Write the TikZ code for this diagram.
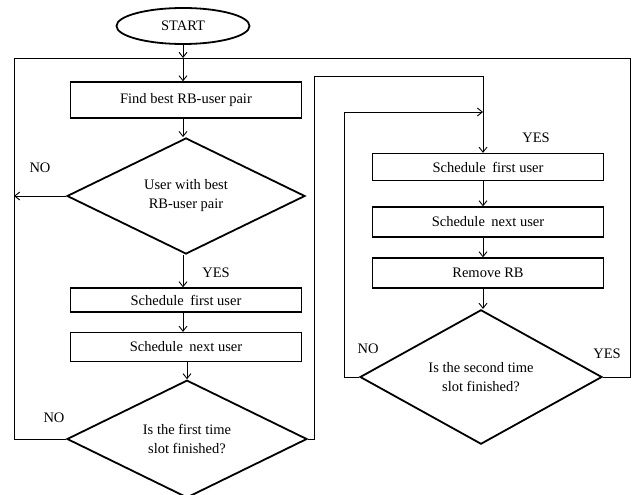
\documentclass[tikz,border=0pt]{standalone}
\usepackage{fontspec}
\setmainfont{Liberation Serif}
\usetikzlibrary{shapes.geometric,arrows.meta}
\begin{document}
\begin{tikzpicture}[x=1pt,y=-1pt,
  every node/.style={font=\fontsize{14.5}{19}\selectfont},
  boxstyle/.style={draw,line width=1.3pt,minimum width=231pt,inner sep=0pt,anchor=center},
  decstyle/.style={draw,diamond,line width=1.8pt,inner sep=0pt,align=center},
  conn/.style={line width=0.9pt},
  arr/.style={conn,-{Straight Barb[length=5pt,width=8pt]}},
  lbl/.style={inner sep=0pt}
]
\useasboundingbox (0,0) rectangle (637,495);
\node[draw,ellipse,line width=1.8pt,minimum width=133pt,minimum height=36pt,inner sep=0pt] (start) at (183,26) {START};
\coordinate (j) at (183,58);
\node[boxstyle,minimum height=36pt] (b1) at (186,100) {Find best RB-user pair};
\node[decstyle,minimum width=238pt,minimum height=116pt] (d1) at (186,196) {User with best\\RB-user pair};
\node[boxstyle,minimum height=24pt] (b2) at (186,300) {Schedule\hspace{0.2em} first user};
\node[boxstyle,minimum height=29pt] (b3) at (186,347) {Schedule\hspace{0.2em} next user};
\node[decstyle,minimum width=240pt,minimum height=112pt] (d2) at (187,439) {Is the first time\\slot finished?};
\node[boxstyle,minimum height=27pt] (b4) at (488,167) {Schedule\hspace{0.2em} first user};
\node[boxstyle,minimum height=30pt] (b5) at (488,222) {Schedule\hspace{0.2em} next user};
\node[boxstyle,minimum height=30pt] (b6) at (488,273) {Remove RB};
\node[decstyle,minimum width=242pt,minimum height=130pt] (d3) at (481,377) {Is the second time\\slot finished?};

\coordinate (tl) at (14,58);
\coordinate (tr) at (630,58);
\coordinate (l1) at (14,196);
\coordinate (r1) at (314,76);
\coordinate (m1) at (344,112);
\coordinate (m2) at (483,112);

\draw[arr] (start.south) -- (j);
\draw[arr] (j) -- (b1.north -| j);
\draw[arr] (b1.south -| j) -- (d1.north -| j);
\draw[arr] (d1.west) -- (l1);
\draw[arr] (d1.south -| j) -- (b2.north -| j);
\draw[arr] (b2.south -| j) -- (b3.north -| j);
\draw[arr] (b3.south -| d2) -- (d2.north);
\draw[conn] (d2.west) -| (tl) -- (tr) |- (d3.east);
\draw[arr] (d2.east) -| (r1) -| (b4.north -| m2);
\draw[arr] (d3.west) -| (m1) -- (m2);
\draw[arr] (b4.south -| m2) -- (b5.north -| m2);
\draw[arr] (b5.south -| m2) -- (b6.north -| m2);
\draw[arr] (b6.south -| m2) -- (d3.north -| m2);

\node[lbl] (n1) at (40,168) {NO};
\node[lbl] (y1) at (216,273) {YES};
\node[lbl] (n2) at (54,418) {NO};
\node[lbl] (y2) at (536,138) {YES};
\node[lbl] (n3) at (368,349) {NO};
\node[lbl] (y3) at (607,354) {YES};
\end{tikzpicture}
\end{document}
